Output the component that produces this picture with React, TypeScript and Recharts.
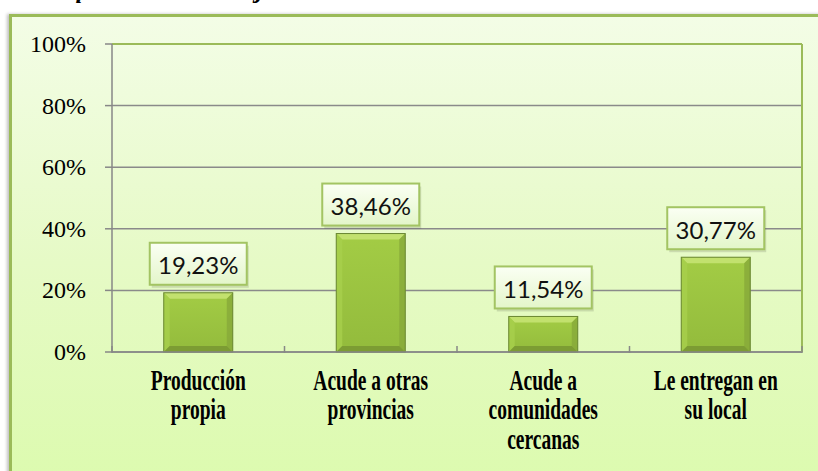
import React from "react";
import { BarChart, Bar, XAxis, YAxis, CartesianGrid, ReferenceLine, LabelList } from "recharts";

const categories = [
  ["Producción", "propia"],
  ["Acude a otras", "provincias"],
  ["Acude a", "comunidades", "cercanas"],
  ["Le entregan en", "su local"],
];
const values = [0.1923, 0.3846, 0.1154, 0.3077];
const labels = ["19,23%", "38,46%", "11,54%", "30,77%"];
const yTicks = [0, 0.2, 0.4, 0.6, 0.8, 1];

const data = categories.map((c, i) => ({ name: c.join(" "), lines: c, value: values[i], label: labels[i] }));

const W = 818;
const H = 471;
const X_H = 119;
const M = { top: 44, right: 0, bottom: 0, left: 0 };
const Y_W = 112;
const R_W = 16;
const BAND = (W - Y_W - R_W) / categories.length;
const SERIF = "'Liberation Serif', 'Times New Roman', Times, serif";

function BevelBar(props: any) {
  const { x, y, width, height } = props;
  if (!height || height <= 0) return null;
  const b = 6;
  return (
    <g>
      <rect x={x} y={y} width={width} height={height} fill="url(#barBody)" />
      <polygon points={`${x},${y} ${x + width},${y} ${x + width - b},${y + b} ${x + b},${y + b}`} fill="#c2e16e" />
      <polygon points={`${x},${y} ${x + b},${y + b} ${x + b},${y + height - b} ${x},${y + height}`} fill="#a8cf4c" opacity={0.8} />
      <polygon points={`${x + width},${y} ${x + width - b},${y + b} ${x + width - b},${y + height - b} ${x + width},${y + height}`} fill="#87a93a" opacity={0.8} />
      <polygon points={`${x},${y + height} ${x + b},${y + height - b} ${x + width - b},${y + height - b} ${x + width},${y + height}`} fill="#7c9c33" />
      <rect x={x} y={y} width={width} height={height} fill="none" stroke="#6a8733" strokeWidth={1} />
    </g>
  );
}

function BoxLabel(props: any) {
  const { x, y, width, value } = props;
  const bw = 97;
  const bh = 42;
  const cx = x + width / 2;
  const top = y - 8 - bh;
  return (
    <g>
      <rect x={cx - bw / 2 + 2} y={top + 3} width={bw} height={bh} fill="#000" opacity={0.12} />
      <rect x={cx - bw / 2} y={top} width={bw} height={bh} fill="url(#lblFill)" stroke="#a3c463" strokeWidth={2} />
      <text x={cx} y={top + bh / 2 + 1} textAnchor="middle" dominantBaseline="central" fontFamily="Lato, 'Open Sans', sans-serif" fontSize={24} fill="#111">
        {value}
      </text>
    </g>
  );
}

function XTick(props: any) {
  const { x, y, payload, index } = props;
  const idx = payload?.index ?? index;
  const lines: string[] = data[idx]?.lines ?? [];
  const left = x - BAND / 2;
  return (
    <g>
      <line x1={left} y1={y - 8} x2={left} y2={y - 1} stroke="#878787" strokeWidth={1.5} />
      {idx === categories.length - 1 && (
        <line x1={x + BAND / 2} y1={y - 8} x2={x + BAND / 2} y2={y - 1} stroke="#878787" strokeWidth={1.5} />
      )}
      <g transform={`translate(${x}, ${y + 36}) scale(1, 1.55)`}>
        {lines.map((l, i) => (
          <text key={i} x={0} y={i * 19} textAnchor="middle" style={{ fontFamily: SERIF }} fontWeight="bold" fontSize={19.5} fill="#000">
            {l}
          </text>
        ))}
      </g>
    </g>
  );
}

function YTick(props: any) {
  const { y, payload } = props;
  return (
    <g>
      <line x1={105} y1={y} x2={112} y2={y} stroke="#878787" strokeWidth={1.5} />
      <text x={86} y={y + 8} textAnchor="end" style={{ fontFamily: SERIF }} fontSize={24} fill="#000">
        {Math.round(payload.value * 100)}%
      </text>
    </g>
  );
}

export default function App() {
  return (
    <div style={{ position: "fixed", left: 0, top: 0, width: W, height: H, overflow: "hidden", background: "#fff" }}>
      <div
        style={{
          position: "absolute",
          left: 40,
          top: -25,
          fontFamily: SERIF,
          fontStyle: "italic",
          fontWeight: "bold",
          fontSize: 26,
          whiteSpace: "nowrap",
        }}
      >
        Adquisición de los ajíes
      </div>
      <div
        style={{
          position: "absolute",
          left: 9,
          top: 14,
          width: W + 20,
          height: H + 20,
          borderLeft: "3px solid #9bbb59",
          borderTop: "3px solid #9bbb59",
          background: "linear-gradient(to bottom, #f3fde6 0%, #e6fac6 50%, #dbfbac 100%)",
          boxShadow: "-2px 0 3px rgba(0,0,0,0.25)",
        }}
      />
      <div style={{ position: "absolute", left: 0, top: 0 }}>
        <BarChart width={W} height={H} data={data} margin={M} barCategoryGap="30%">
          <defs>
            <linearGradient id="barBody" x1="0" y1="0" x2="0" y2="1">
              <stop offset="0%" stopColor="#a3cc45" />
              <stop offset="100%" stopColor="#93bb3c" />
            </linearGradient>
            <linearGradient id="lblFill" x1="0" y1="0" x2="0" y2="1">
              <stop offset="0%" stopColor="#fbfff4" />
              <stop offset="100%" stopColor="#e3f6c9" />
            </linearGradient>
          </defs>
          <CartesianGrid vertical={false} stroke="#8a8a8a" strokeWidth={1.5} />
          <XAxis
            dataKey="name"
            interval={0}
            tickLine={false}
            tickSize={0}
            axisLine={{ stroke: "#878787", strokeWidth: 1.5 }}
            tick={<XTick />}
            height={X_H}
          />
          <YAxis
            yAxisId={0}
            domain={[0, 1]}
            ticks={yTicks}
            width={Y_W}
            tickLine={false}
            axisLine={{ stroke: "#878787", strokeWidth: 1.5 }}
            tick={<YTick />}
          />
          <YAxis
            yAxisId="r"
            orientation="right"
            domain={[0, 1]}
            width={R_W}
            tick={false}
            tickLine={false}
            axisLine={{ stroke: "#9bbb59", strokeWidth: 2 }}
          />
          <ReferenceLine y={1} stroke="#9bbb59" strokeWidth={2} />
          <Bar dataKey="value" shape={<BevelBar />} isAnimationActive={false}>
            <LabelList dataKey="label" content={<BoxLabel />} />
          </Bar>
        </BarChart>
      </div>
    </div>
  );
}
